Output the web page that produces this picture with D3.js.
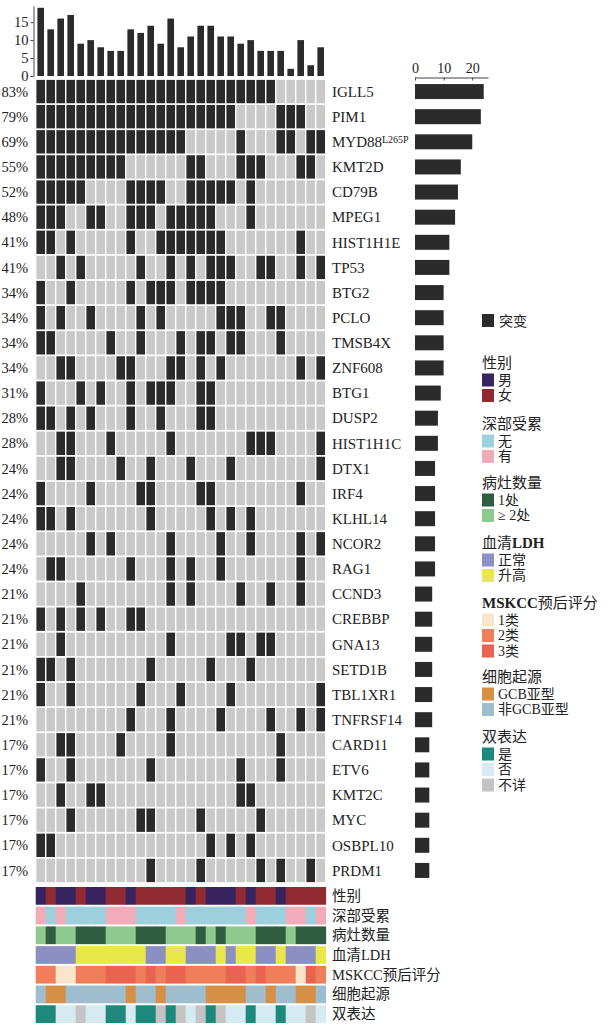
<!DOCTYPE html>
<html>
<head>
<meta charset="utf-8">
<script src="https://d3js.org/d3.v7.min.js"></script>
<style>
  body { margin: 0; background: #fff; }
  svg { display: block; }
  text { font-family: "Liberation Serif", "Noto Sans CJK SC", serif; fill: #222; }
</style>
</head>
<body>
<div id="chart"></div>
<script>
// genes, top to bottom
var genes = ["IGLL5","PIM1","MYD88","KMT2D","CD79B","MPEG1","HIST1H1E","TP53","BTG2","PCLO",
  "TMSB4X","ZNF608","BTG1","DUSP2","HIST1H1C","DTX1","IRF4","KLHL14","NCOR2","RAG1",
  "CCND3","CREBBP","GNA13","SETD1B","TBL1XR1","TNFRSF14","CARD11","ETV6","KMT2C","MYC",
  "OSBPL10","PRDM1"];
var pctLabels = ["83%","79%","69%","55%","52%","48%","41%","41%","34%","34%","34%","34%","31%","28%",
  "28%","24%","24%","24%","24%","24%","21%","21%","21%","21%","21%","21%","17%","17%","17%","17%","17%","17%"];
var geneCounts = [24,23,20,16,15,14,12,12,10,10,10,10,9,8,8,7,7,7,7,7,6,6,6,6,6,6,5,5,5,5,5,5];

// mutated sample columns (0..28) for each gene
var mutated = [
  [0,1,2,3,4,5,6,7,8,9,10,11,12,13,14,15,16,17,18,19,20,21,22,23],
  [0,1,2,3,4,5,6,7,8,9,10,11,12,13,14,15,16,17,18,19,24,25,26],
  [0,1,2,3,4,5,6,7,8,9,10,11,12,13,14,20,24,25,27,28],
  [0,1,2,3,4,5,6,7,8,15,16,20,21,22,26,27],
  [0,1,2,3,4,9,10,11,12,15,16,17,18,19,21],
  [0,1,2,5,6,9,10,11,13,14,15,16,17,21],
  [0,1,3,9,12,13,14,15,16,17,18,26],
  [2,4,10,13,15,17,18,19,22,23,26,28],
  [0,3,9,11,12,13,15,16,17,18],
  [0,2,5,10,12,18,19,20,23,24],
  [0,1,7,10,14,16,17,19,20,24],
  [2,3,8,9,13,14,16,18,26,28],
  [0,4,6,9,11,12,13,16,17],
  [0,1,3,5,9,12,16,17],
  [2,3,7,13,21,22,23,28],
  [2,3,8,11,15,19,28],
  [0,5,10,11,16,17,26],
  [0,1,3,11,17,19,21],
  [5,7,13,18,21,26,28],
  [1,2,9,13,15,18,26],
  [4,13,15,20,23,26],
  [0,2,4,6,9,10],
  [2,13,19,20,22,23],
  [0,1,3,11,17,21],
  [0,3,10,14,19,28],
  [9,13,18,23,26,28],
  [2,3,8,13,24],
  [0,3,11,20,24],
  [2,5,6,20,21],
  [3,10,11,16,22],
  [0,1,17,19,21],
  [11,16,22,24,27]
];

// mutations per sample (top bars)
var sampleCounts = [19,13,16,17,9,10,8,7,7,13,12,14,9,16,8,11,14,14,11,11,9,10,7,7,7,2,10,3,8];
var topTicks = [0,5,10,15];
var rightTicks = [0,10,20];

// clinical annotation tracks
var trackNames = ["性别","深部受累","病灶数量","血清LDH","MSKCC预后评分","细胞起源","双表达"];
var sex      = ["男","女","男","男","女","男","男","女","女","男","女","女","女","女","女","男","女","男","男","男","女","男","女","女","男","女","女","女","女"];
var deep     = ["有","无","有","无","无","无","无","有","有","有","无","无","无","无","有","无","无","无","无","无","无","有","无","无","无","有","有","无","有"];
var lesions  = ["≥ 2处","1处","≥ 2处","≥ 2处","1处","1处","1处","≥ 2处","≥ 2处","≥ 2处","1处","1处","1处","≥ 2处","≥ 2处","≥ 2处","1处","≥ 2处","1处","≥ 2处","≥ 2处","≥ 2处","1处","1处","1处","≥ 2处","1处","1处","1处"];
var ldh      = ["正常","正常","正常","正常","升高","升高","升高","升高","升高","升高","升高","正常","正常","升高","升高","正常","正常","正常","升高","正常","升高","升高","正常","正常","升高","正常","正常","正常","升高"];
var mskcc    = ["2类","2类","1类","1类","2类","2类","2类","3类","3类","3类","2类","3类","2类","3类","3类","2类","2类","2类","2类","3类","3类","2类","3类","2类","2类","2类","1类","3类","2类"];
var origin   = ["非GCB亚型","GCB亚型","GCB亚型","非GCB亚型","非GCB亚型","非GCB亚型","非GCB亚型","非GCB亚型","非GCB亚型","GCB亚型","非GCB亚型","非GCB亚型","GCB亚型","非GCB亚型","非GCB亚型","非GCB亚型","非GCB亚型","GCB亚型","GCB亚型","GCB亚型","GCB亚型","非GCB亚型","非GCB亚型","GCB亚型","非GCB亚型","非GCB亚型","GCB亚型","GCB亚型","非GCB亚型"];
var dualExp  = ["是","是","否","否","不详","否","否","是","是","否","是","是","不详","是","不详","否","不详","是","不详","否","否","是","否","否","是","否","否","不详","否"];
var trackData = [sex, deep, lesions, ldh, mskcc, origin, dualExp];

var legendGroups = [
  {title: "性别", items: ["男","女"], colors: ["#36235f","#912a31"]},
  {title: "深部受累", items: ["无","有"], colors: ["#9dd0dd","#f2abb9"]},
  {title: "病灶数量", items: ["1处","≥ 2处"], colors: ["#2f5d3f","#90c98f"]},
  {title: "血清LDH", items: ["正常","升高"], colors: ["#8c8fc3","#e9e74b"]},
  {title: "MSKCC预后评分", items: ["1类","2类","3类"], colors: ["#f9e5cb","#f17e5b","#ea6350"]},
  {title: "细胞起源", items: ["GCB亚型","非GCB亚型"], colors: ["#d78e45","#9ebdcd"]},
  {title: "双表达", items: ["是","否","不详"], colors: ["#1f887d","#d6eaf1","#c4c4c4"]}
];

var W = 610, H = 1027;
var svg = d3.select("#chart").append("svg").attr("width", W).attr("height", H);

var cols = d3.range(29);
var x = d3.scaleBand().domain(cols).range([35.7, 325.7]).paddingInner(0.14).paddingOuter(0.07);
var xFull = d3.scaleBand().domain(cols).range([35.7, 325.7]);
var y = d3.scaleBand().domain(genes).range([79, 883]).paddingInner(0.07).paddingOuter(0.035);

// grid of cells
var cells = [];
genes.forEach(function (g, gi) {
  cols.forEach(function (c) {
    cells.push({gene: g, col: c, mut: mutated[gi].indexOf(c) >= 0});
  });
});
svg.append("g").selectAll("rect").data(cells).enter().append("rect")
  .attr("x", function (d) { return x(d.col); })
  .attr("y", function (d) { return y(d.gene); })
  .attr("width", x.bandwidth())
  .attr("height", y.bandwidth())
  .attr("fill", function (d) { return d.mut ? "#2b2b2b" : "#c9c9c9"; });

// percent labels
svg.append("g").selectAll("text").data(genes).enter().append("text")
  .attr("x", 28).attr("y", function (d) { return y(d) + y.bandwidth() / 2; })
  .attr("dy", "0.35em").attr("text-anchor", "end").style("font-size", "14.5px")
  .text(function (d, i) { return pctLabels[i]; });

// gene labels
var gl = svg.append("g").selectAll("text").data(genes).enter().append("text")
  .attr("x", 332).attr("y", function (d) { return y(d) + y.bandwidth() / 2; })
  .attr("dy", "0.35em").style("font-size", "15px");
gl.append("tspan").text(function (d) { return d; });
gl.filter(function (d) { return d === "MYD88"; }).append("tspan")
  .attr("dy", "-0.45em").style("font-size", "10px").text("L265P");

// top bar chart
var yTop = d3.scaleLinear().domain([0, 19.5]).range([76, 6]);
svg.append("g").selectAll("rect").data(sampleCounts).enter().append("rect")
  .attr("x", function (d, i) { return xFull(i) + xFull.bandwidth() * 0.17; })
  .attr("y", function (d) { return yTop(d); })
  .attr("width", xFull.bandwidth() * 0.66)
  .attr("height", function (d) { return yTop(0) - yTop(d); })
  .attr("fill", "#2b2b2b");
var ga = svg.append("g").attr("transform", "translate(33.5,0)")
  .call(d3.axisLeft(yTop).tickValues(topTicks).tickSize(3).tickSizeOuter(0).tickPadding(2));
ga.selectAll("text").style("font-size", "14.5px").style("font-family", "Liberation Serif");
ga.selectAll("path,line").attr("stroke", "#444");

// right bar chart
var xr = d3.scaleLinear().domain([0, 25.5]).range([415, 488]);
svg.append("g").selectAll("rect").data(geneCounts).enter().append("rect")
  .attr("x", xr(0))
  .attr("y", function (d, i) { return y(genes[i]) + y.bandwidth() / 2 - 7.5; })
  .attr("width", function (d) { return xr(d) - xr(0); })
  .attr("height", 15)
  .attr("fill", "#2b2b2b");
var ra = svg.append("g").attr("transform", "translate(0,77.5)")
  .call(d3.axisTop(xr).tickValues(rightTicks).tickSize(-3).tickSizeOuter(0).tickPadding(3));
ra.selectAll("text").style("font-size", "14px").style("font-family", "Liberation Serif").attr("dy", "-0.1em");
ra.selectAll("path,line").attr("stroke", "#444");

// annotation tracks
var yT = d3.scaleBand().domain(trackNames).range([887, 1023]).paddingInner(0.1);
trackNames.forEach(function (t, ti) {
  var grp = legendGroups[ti];
  var color = d3.scaleOrdinal().domain(grp.items).range(grp.colors);
  svg.append("g").selectAll("rect").data(trackData[ti]).enter().append("rect")
    .attr("x", function (d, i) { return xFull(i); })
    .attr("y", yT(t))
    .attr("width", xFull.bandwidth() + 0.4)
    .attr("height", yT.bandwidth())
    .attr("fill", function (d) { return color(d); });
  svg.append("text").attr("x", 332).attr("y", yT(t) + yT.bandwidth() / 2)
    .attr("dy", "0.35em").style("font-size", "14.5px").text(t);
});

// legend
var lg = svg.append("g");
lg.append("rect").attr("x", 482).attr("y", 314).attr("width", 12).attr("height", 13).attr("fill", "#2b2b2b");
lg.append("text").attr("x", 499).attr("y", 321).attr("dy", "0.35em").style("font-size", "14px").text("突变");
var titleY = [363, 424, 483, 543, 603, 677, 737];
legendGroups.forEach(function (grp, gi) {
  var ty = titleY[gi];
  var tt = lg.append("text").attr("x", 482).attr("y", ty).attr("dy", "0.35em").style("font-size", "15px");
  var m = grp.title.match(/^([A-Za-z]*)(.*?)([A-Za-z]*)$/);
  if (m[1]) tt.append("tspan").style("font-weight", "bold").text(m[1]);
  tt.append("tspan").text(m[2]);
  if (m[3]) tt.append("tspan").style("font-weight", "bold").text(m[3]);
  grp.items.forEach(function (it, ii) {
    var iy = ty + 17 + ii * 15.5;
    lg.append("rect").attr("x", 482).attr("y", iy - 6.5).attr("width", 12).attr("height", 13).attr("fill", grp.colors[ii]);
    lg.append("text").attr("x", 498).attr("y", iy).attr("dy", "0.35em").style("font-size", "14px").text(it);
  });
});
</script>
</body>
</html>
